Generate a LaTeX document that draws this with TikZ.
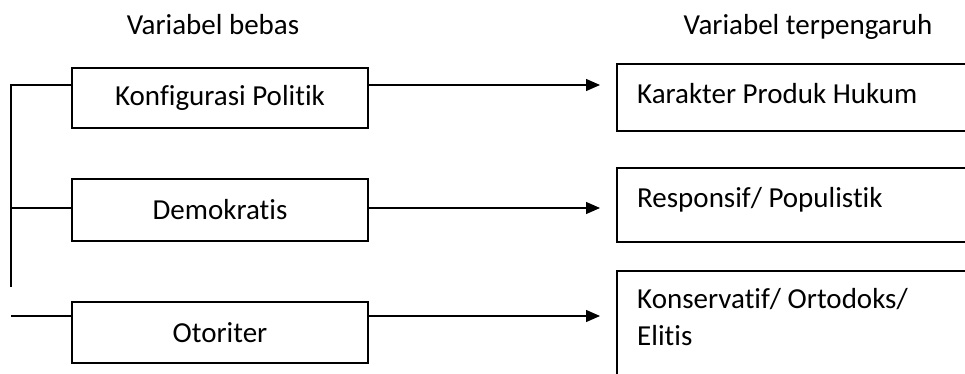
\documentclass[tikz,border=0pt]{standalone}
\usepackage{fontspec}
\setmainfont{Carlito}[Ligatures={NoCommon,NoRequired,NoContextual}]
\usetikzlibrary{arrows.meta}
\begin{document}
\begin{tikzpicture}[x=1pt,y=-1pt,
  lbox/.style={draw, line width=1.6pt, minimum width=296pt, inner sep=0pt, font=\fontsize{29}{37}\selectfont},
  rbox/.style={draw, line width=1.6pt, minimum width=400pt, inner sep=0pt, anchor=north west},
  rtext/.style={anchor=base west, inner sep=0pt, align=left, font=\fontsize{29}{37}\selectfont},
  head/.style={anchor=base, inner sep=0pt, font=\fontsize{29}{37}\selectfont},
  conn/.style={line width=1.3pt},
  arr/.style={line width=1.3pt, -{Triangle[length=14pt,width=12pt]}, shorten >=16pt}]
\useasboundingbox (0,0) rectangle (965,374);
\clip (0,0) rectangle (965,374);
\node[head] (h1) at (213,35) {Variabel bebas};
\node[head] (h2) at (808,35) {Variabel terpengaruh};
\node[lbox, minimum height=60pt] (l1) at (220,98) {Konfigurasi Politik};
\node[lbox, minimum height=62pt] (l2) at (220,210) {Demokratis};
\node[lbox, minimum height=61pt] (l3) at (220,332.5) {Otoriter};
\node[rbox, minimum height=67pt] (r1) at (616,63) {};
\node[rbox, minimum height=74pt] (r2) at (616,167) {};
\node[rbox, minimum height=140pt] (r3) at (616,270) {};
\node[rtext] (t1) at (637,104) {Karakter Produk Hukum};
\node[rtext] (t2) at (637,207) {Responsif/ Populistik};
\node[rtext] (t3a) at (637,308) {Konservatif/ Ortodoks/};
\node[rtext] (t3b) at (637,345) {Elitis};
\coordinate (v1) at (11,85);
\coordinate (v2) at (11,287);
\coordinate (m2) at (11,208);
\coordinate (m3) at (11,316);
\draw[conn] (v2) -- (v1) -- (l1.west |- v1);
\draw[conn] (m2) -- (l2.west |- m2);
\draw[conn] (m3) -- (l3.west |- m3);
\draw[arr] (l1.east |- v1) -- (r1.west |- v1);
\draw[arr] (l2.east |- m2) -- (r2.west |- m2);
\draw[arr] (l3.east |- m3) -- (r3.west |- m3);
\end{tikzpicture}
\end{document}
